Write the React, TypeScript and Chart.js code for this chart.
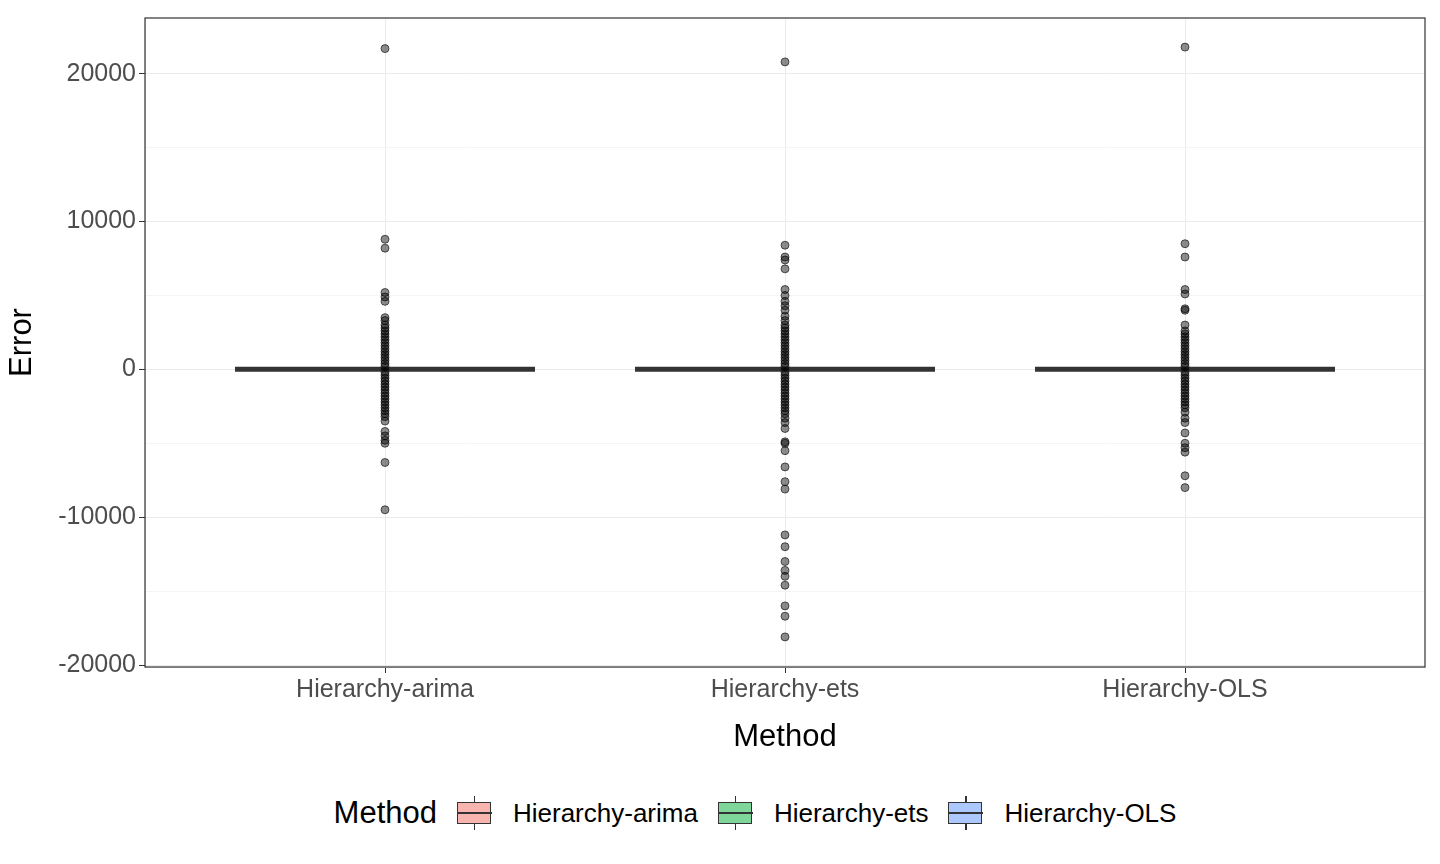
import React, { useEffect, useRef } from "react";
import { Chart, registerables } from "chart.js";
Chart.register(...registerables);

const categories = ["Hierarchy-arima", "Hierarchy-ets", "Hierarchy-OLS"];
const fills = ["#F8B5B0", "#7FD69B", "#ADC8FF"];
const arimaOutliers = [21700, 8800, 8200, 5200, 4900, 4600, 3500, 3300, 3000, 2800, 2600, 2400, 2200, 2000, 1800, 1600, 1400, 1200, 1000, 800, 600, 400, 200, -200, -400, -600, -800, -1000, -1200, -1400, -1600, -1800, -2000, -2200, -2400, -2600, -2800, -3000, -3200, -3500, -4200, -4500, -4800, -5000, -6300, -9500];
const etsOutliers = [20800, 8400, 7600, 7400, 6800, 5400, 5000, 4600, 4300, 4000, 3600, 3300, 3000, 2800, 2600, 2400, 2200, 2000, 1800, 1600, 1400, 1200, 1000, 800, 600, 400, 200, -200, -400, -600, -800, -1000, -1200, -1400, -1600, -1800, -2000, -2200, -2400, -2600, -2800, -3000, -3300, -3600, -4000, -4900, -5000, -5500, -6600, -7600, -8100, -11200, -12000, -13000, -13600, -14000, -14600, -16000, -16700, -18100];
const olsOutliers = [21800, 8500, 7600, 5400, 5100, 4100, 4000, 3000, 2600, 2400, 2200, 2000, 1800, 1600, 1400, 1200, 1000, 800, 600, 400, 200, -200, -400, -600, -800, -1000, -1200, -1400, -1600, -1800, -2000, -2200, -2400, -2600, -2900, -3300, -3600, -4300, -5000, -5300, -5600, -7200, -8000];
const medians = [0, 0, 0];
const yTicks = [-20000, -10000, 0, 10000, 20000];

const FONT = "'Liberation Sans', Arial, sans-serif";

export default function App() {
  const ref = useRef<HTMLCanvasElement>(null);
  useEffect(() => {
    const all = [arimaOutliers, etsOutliers, olsOutliers];
    const datasets: any[] = [];
    medians.forEach((m, i) => {
      datasets.push({
        type: "line",
        data: [{ x: i + 1 - 0.375, y: m }, { x: i + 1 + 0.375, y: m }],
        borderColor: "#333333", borderWidth: 5, pointRadius: 0, order: 1,
      });
    });
    all.forEach((arr, i) => {
      datasets.push({
        type: "scatter",
        data: arr.map((v) => ({ x: i + 1, y: v })),
        backgroundColor: "rgba(0,0,0,0.45)", borderColor: "rgba(0,0,0,0.6)",
        borderWidth: 1, pointRadius: 4, order: 0,
      });
    });
    const frame = {
      id: "frame",
      afterDraw(c: any) {
        const { left, top, right, bottom } = c.chartArea;
        const ctx = c.ctx;
        ctx.save();
        ctx.strokeStyle = "#333333";
        ctx.lineWidth = 1.2;
        ctx.strokeRect(left, top, right - left, bottom - top);
        ctx.restore();
      },
    };
    const chart = new Chart(ref.current!, {
      type: "scatter",
      data: { datasets },
      plugins: [frame],
      options: {
        animation: false,
        responsive: false,
        layout: { padding: { top: 15, right: 15, left: 4, bottom: 0 } },
        plugins: { legend: { display: false }, tooltip: { enabled: false } },
        scales: {
          x: {
            type: "linear", min: 0.4, max: 3.6,
            afterBuildTicks: (s: any) => { s.ticks = [1, 2, 3].map((v) => ({ value: v })); },
            afterFit: (s: any) => { s.height = 93; },
            ticks: { callback: (v: any) => categories[Number(v) - 1], color: "#4D4D4D", font: { family: FONT, size: 25 }, padding: 2 },
            grid: { color: "#EBEBEB", tickColor: "#333333", tickLength: 6 },
            title: { display: true, text: "Method", color: "#000", font: { family: FONT, size: 31 }, padding: { top: 0 } },
          },
          y: {
            min: -20135, max: 23770,
            afterBuildTicks: (s: any) => { s.ticks = [-20000, -15000, -10000, -5000, 0, 5000, 10000, 15000, 20000].map((v) => ({ value: v })); },
            afterFit: (s: any) => { s.width = 141; },
            ticks: { callback: (v: any) => (yTicks.includes(Number(v)) ? String(v) : ""), color: "#4D4D4D", font: { family: FONT, size: 25 }, padding: 3 },
            grid: { color: (c: any) => (yTicks.includes(c.tick?.value) ? "#EBEBEB" : "#F4F4F4"), tickColor: (c: any) => (yTicks.includes(c.tick?.value) ? "#333333" : "rgba(0,0,0,0)"), tickLength: 6 },
            title: { display: true, text: "Error", color: "#000", font: { family: FONT, size: 31 }, padding: 0 },
          },
        },
      },
    });
    return () => chart.destroy();
  }, []);
  const item = (label: string, color: string) => (
    <div key={label} style={{ display: "flex", alignItems: "center", marginLeft: 20 }}>
      <div style={{ position: "relative", width: 36, height: 34, marginRight: 20 }}>
        <div style={{ position: "absolute", left: 17, top: 0, width: 1.5, height: 34, background: "#333" }} />
        <div style={{ position: "absolute", left: 0, top: 6, width: 34, height: 22, background: color, border: "1.5px solid #333", boxSizing: "border-box" }} />
        <div style={{ position: "absolute", left: 0, top: 16, width: 35, height: 1.5, background: "#333" }} />
      </div>
      <span style={{ fontSize: 26, color: "#000" }}>{label}</span>
    </div>
  );
  return (
    <div style={{ position: "absolute", left: 0, top: 0, width: 1440, height: 864, background: "#fff", fontFamily: FONT }}>
      <canvas ref={ref} width={1440} height={760} style={{ display: "block" }} />
      <div style={{ position: "absolute", top: 795, left: 0, width: 1440, display: "flex", justifyContent: "center", alignItems: "center", paddingLeft: 70, boxSizing: "border-box" }}>
        <span style={{ fontSize: 31, marginRight: 0 }}>Method</span>
        {categories.map((c, i) => item(c, fills[i]))}
      </div>
    </div>
  );
}
